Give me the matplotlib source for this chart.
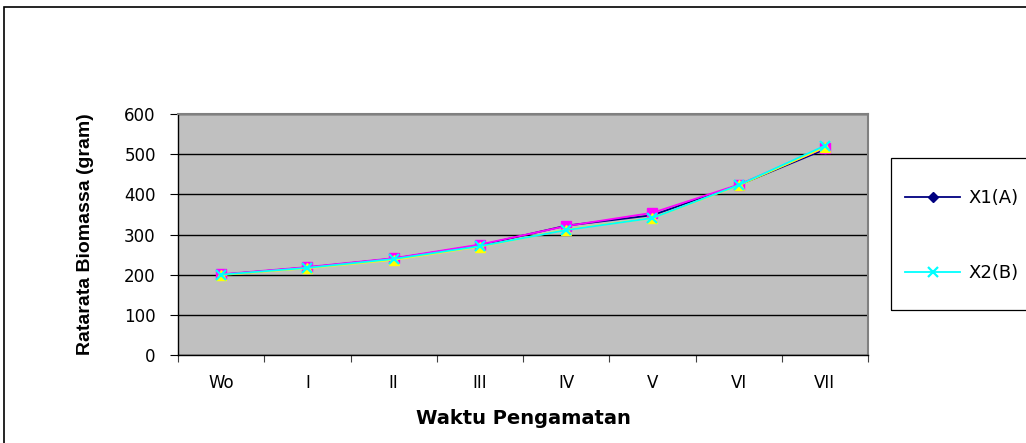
import numpy as np
import matplotlib
matplotlib.use('Agg')
import matplotlib.pyplot as plt
from matplotlib.patches import Rectangle

plt.rcParams['font.family'] = ['DejaVu Sans']

periods = ['Wo', 'I', 'II', 'III', 'IV', 'V', 'VI', 'VII']
x1_a = [200, 218, 240, 273, 322, 348, 423, 512]
s_mag = [201, 219, 241, 275, 321, 354, 424, 516]
s_yel = [199, 216, 237, 270, 312, 341, 422, 517]
x2_b = [200, 217, 239, 271, 311, 341, 423, 521]
y_ticks = [0, 100, 200, 300, 400, 500, 600]

fig = plt.figure(figsize=(10.26, 4.43), dpi=100)
# outer chart border
fig.patches.append(Rectangle((4/1026, -0.05), 1.1, 1 - 7/443 + 0.05,
                             transform=fig.transFigure, fill=False,
                             edgecolor='black', linewidth=1.2))
# legend box
fig.patches.append(Rectangle((891/1026, 1 - 310/443), 0.2, 152/443,
                             transform=fig.transFigure, fill=False,
                             edgecolor='black', linewidth=0.9))

ax = fig.add_axes([178/1026, 1 - 355/443, 690/1026, 241/443])
ax.set_facecolor('#C0C0C0')
xs = np.arange(len(periods)) + 0.5

ax.plot(xs, x1_a, color='#000080', marker='D', markersize=5.5, lw=1.3, label='X1(A)', zorder=3)
ax.plot(xs, s_mag, color='#FF00FF', marker='s', markersize=6.5, lw=1.3, label='_nolegend_', zorder=3)
ax.plot(xs, s_yel, color='#FFFF00', marker='^', markersize=7, lw=1.3, label='_nolegend_', zorder=3)
ax.plot(xs, x2_b, color='#00FFFF', marker='x', markersize=7.5, mew=1.6, lw=1.3, label='X2(B)', zorder=3)

ax.set_xlim(0, len(periods))
ax.set_ylim(0, 600)
ax.set_yticks(y_ticks)
ax.set_yticklabels([str(v) for v in y_ticks], fontsize=12)
ax.set_xticks(np.arange(len(periods) + 1))
ax.set_xticklabels([])
ax.set_xticks(xs, minor=True)
ax.set_xticklabels(periods, minor=True, fontsize=12)
ax.tick_params(axis='x', which='minor', length=0, pad=14)
ax.tick_params(axis='x', which='major', length=5, direction='out', color='#404040')
ax.tick_params(axis='y', length=6, direction='out', pad=10)
ax.grid(axis='y', color='black', linewidth=1)
ax.set_axisbelow(True)
for side in ['top', 'right']:
    ax.spines[side].set_color('#808080')
    ax.spines[side].set_linewidth(1.5)
for side in ['left', 'bottom']:
    ax.spines[side].set_color('black')
    ax.spines[side].set_linewidth(1)

ax.set_xlabel('Waktu Pengamatan', fontsize=14, fontweight='bold', labelpad=12)
ax.set_ylabel('Ratarata Biomassa (gram)', fontsize=14, fontweight='bold', labelpad=22,
              family=['Liberation Sans Narrow', 'Liberation Sans'])

leg = ax.legend(loc='upper left', bbox_to_anchor=(905/1026, 1 - 189/443),
                bbox_transform=fig.transFigure, fontsize=13, frameon=False,
                labelspacing=3.17, handlelength=3.05, handletextpad=0.45,
                borderpad=0, borderaxespad=0)

fig.savefig('out.png', dpi=100)
